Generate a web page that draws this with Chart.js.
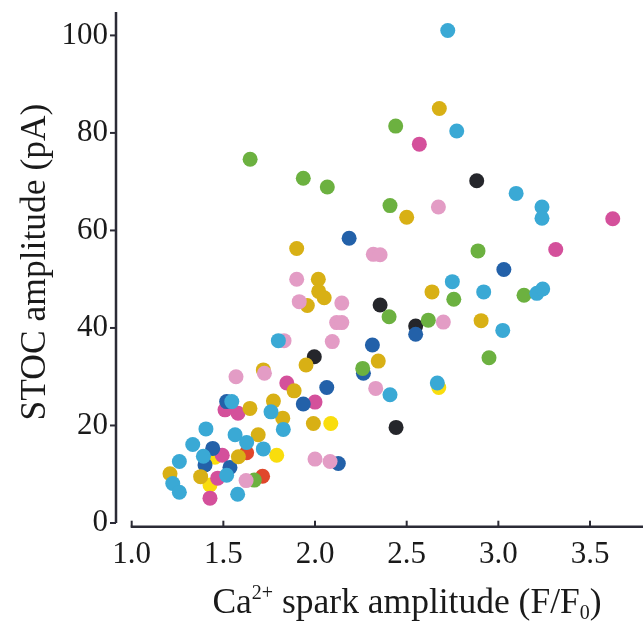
<!DOCTYPE html>
<html>
<head>
<meta charset="utf-8">
<script src="https://cdn.jsdelivr.net/npm/chart.js@4.4.0/dist/chart.umd.min.js"></script>
<style>
  html, body { margin: 0; padding: 0; background: #fff; overflow: hidden; }
  canvas { display: block; }
</style>
</head>
<body>
<canvas id="chart" width="643" height="622"></canvas>
<script>
// tick values
const xTicks = [1.0, 1.5, 2.0, 2.5, 3.0, 3.5]
const yTicks = [0, 20, 40, 60, 80, 100]

// points, grouped by colour: [spark amplitude, STOC amplitude]
const cyanPts = [[2.724, 101.0], [2.773, 80.4], [3.097, 67.6], [3.238, 64.8], [3.238, 62.5], [2.749, 49.5],
  [2.92, 47.4], [3.21, 47.1], [3.242, 48.0], [3.024, 39.5], [2.667, 28.7], [1.80, 37.4], [2.409, 26.3],
  [1.76, 22.8], [1.827, 19.2], [1.564, 18.1], [1.627, 16.5], [1.405, 19.3], [1.333, 16.1], [1.718, 15.2],
  [1.391, 13.7], [1.26, 12.6], [1.518, 9.8], [1.224, 8.1], [1.26, 6.3], [1.578, 5.9], [1.546, 24.9]]
const bluePts = [[3.03, 52.0], [2.549, 38.7], [2.186, 58.4], [2.313, 36.5], [2.264, 30.7], [2.064, 27.8],
  [1.936, 24.4], [1.518, 24.9], [1.442, 15.3], [1.40, 11.9], [1.536, 11.4], [2.127, 12.2]]
const greenPts = [[2.44, 81.4], [2.409, 65.1], [2.889, 55.8], [2.757, 45.9], [3.14, 46.7], [2.618, 41.6],
  [2.949, 33.9], [2.404, 42.3], [2.26, 31.7], [1.646, 74.6], [1.936, 70.7], [2.067, 68.9], [1.669, 8.8]]
const goldPts = [[2.678, 85.0], [2.638, 47.4], [2.50, 62.7], [2.906, 41.5], [1.90, 56.3], [2.018, 50.0],
  [2.02, 47.5], [2.05, 46.2], [1.958, 44.6], [1.951, 32.4], [2.345, 33.2], [1.718, 31.4], [1.886, 27.1],
  [1.773, 25.0], [1.991, 20.4], [1.645, 23.5], [1.69, 18.1], [1.824, 21.5], [1.582, 13.6], [1.209, 10.1],
  [1.376, 9.5]]
const yellowPts = [[2.675, 27.8], [2.086, 20.4], [1.454, 13.5], [1.791, 13.9], [1.427, 7.8]]
const magentaPts = [[2.569, 77.7], [3.624, 62.4], [3.313, 56.1], [1.846, 28.7], [2.0, 24.8], [1.509, 23.2],
  [1.58, 22.5], [1.494, 13.9], [1.469, 9.2], [1.427, 5.1]]
const pinkPts = [[2.673, 64.8], [2.70, 41.2], [2.318, 55.1], [2.355, 55.0], [1.90, 50.0], [1.914, 45.4],
  [2.146, 45.1], [2.118, 41.1], [2.146, 41.1], [1.831, 37.4], [2.094, 37.2], [1.569, 30.0], [1.724, 30.7],
  [2.331, 27.6], [2.0, 13.1], [2.082, 12.6], [1.624, 8.7]]
const blackPts = [[2.882, 70.2], [2.549, 40.4], [2.355, 44.7], [1.996, 34.1], [2.442, 19.6]]
const redPts = [[1.627, 14.4], [1.714, 9.6]]

const groups = [
  {pts: cyanPts, color: '#3aa9d5'},
  {pts: pinkPts, color: '#e39cc5'},
  {pts: goldPts, color: '#d8b015'},
  {pts: greenPts, color: '#6cb140'},
  {pts: bluePts, color: '#2361a9'},
  {pts: magentaPts, color: '#d4509b'},
  {pts: yellowPts, color: '#f9dd0d'},
  {pts: redPts, color: '#e0472b'},
  {pts: blackPts, color: '#25262b'}
]

const axisColor = '#2b2b36'
const serif = '"Liberation Serif", "Times New Roman", serif'

// chart.js pads the area so edge labels fit; the figure doesn't
function noPad(s) {
  s.paddingTop = 0
  s.paddingBottom = 0
  s.paddingLeft = 0
  s.paddingRight = 0
}

const axesPlugin = {
  id: 'axes',
  afterDraw(chart) {
    const {ctx, chartArea, scales: {x, y}} = chart
    ctx.save()
    ctx.strokeStyle = axisColor
    ctx.lineWidth = 2.5
    // y axis, from 0 up to the top
    const yl = chartArea.left
    ctx.beginPath()
    ctx.moveTo(yl, y.getPixelForValue(yTicks[0]))
    ctx.lineTo(yl, chartArea.top)
    ctx.stroke()
    ctx.lineWidth = 2
    yTicks.forEach(v => {
      const py = y.getPixelForValue(v)
      ctx.beginPath()
      ctx.moveTo(yl - 6, py)
      ctx.lineTo(yl, py)
      ctx.stroke()
    })
    // x axis, from 1.0 to the right edge, ticks pointing up
    const xb = chartArea.bottom
    ctx.lineWidth = 2.5
    ctx.beginPath()
    ctx.moveTo(x.getPixelForValue(xTicks[0]) - 1, xb)
    ctx.lineTo(chartArea.right, xb)
    ctx.stroke()
    ctx.lineWidth = 2
    xTicks.forEach(v => {
      const px = x.getPixelForValue(v)
      ctx.beginPath()
      ctx.moveTo(px, xb)
      ctx.lineTo(px, xb - 6)
      ctx.stroke()
    })

    // axis titles
    ctx.fillStyle = '#1a1a1a'
    ctx.textBaseline = 'alphabetic'
    const parts = [
      {t: 'Ca', s: 35.5, dy: 0},
      {t: '2+', s: 20, dy: -14},
      {t: ' spark amplitude (F/F', s: 35.5, dy: 0},
      {t: '0', s: 20, dy: 6},
      {t: ')', s: 35.5, dy: 0}
    ]
    let w = 0
    parts.forEach(p => { ctx.font = `${p.s}px ${serif}`; p.w = ctx.measureText(p.t).width; w += p.w })
    let cx = 407 - w / 2
    ctx.textAlign = 'left'
    parts.forEach(p => {
      ctx.font = `${p.s}px ${serif}`
      ctx.fillText(p.t, cx, 613 + p.dy)
      cx += p.w
    })

    ctx.translate(45, 262)
    ctx.rotate(-Math.PI / 2)
    ctx.textAlign = 'center'
    ctx.font = `35.5px ${serif}`
    ctx.fillText('STOC amplitude (pA)', 0, 0)
    ctx.restore()
  }
}

new Chart(document.getElementById('chart'), {
  type: 'scatter',
  data: {
    datasets: groups.map(g => ({
      data: g.pts.map(p => ({x: p[0], y: p[1]})),
      backgroundColor: g.color,
      borderColor: g.color,
      borderWidth: 0,
      pointRadius: 7.5,
      pointHoverRadius: 7.5
    }))
  },
  options: {
    responsive: false,
    animation: false,
    devicePixelRatio: 1,
    layout: {autoPadding: false, padding: {top: 12, right: 0, bottom: 0, left: 0}},
    plugins: {legend: {display: false}, tooltip: {enabled: false}},
    scales: {
      x: {
        type: 'linear',
        min: 0.9144,
        max: 3.789,
        grid: {display: false, drawTicks: false},
        border: {display: false},
        afterBuildTicks: s => { s.ticks = xTicks.map(v => ({value: v})) },
        afterFit: s => { s.height = 95.3; noPad(s) },
        ticks: {
          padding: 10,
          color: '#1a1a1a',
          font: {family: serif, size: 31},
          maxRotation: 0,
          autoSkip: false,
          callback: v => v.toFixed(1)
        }
      },
      y: {
        type: 'linear',
        min: -0.76,
        max: 104.8,
        grid: {display: false, drawTicks: false},
        border: {display: false},
        afterBuildTicks: s => { s.ticks = yTicks.map(v => ({value: v})) },
        afterFit: s => { s.width = 116; noPad(s) },
        ticks: {
          padding: 8,
          color: '#1a1a1a',
          font: {family: serif, size: 31},
          autoSkip: false,
          callback: v => String(v)
        }
      }
    }
  },
  plugins: [axesPlugin]
})
</script>
</body>
</html>
